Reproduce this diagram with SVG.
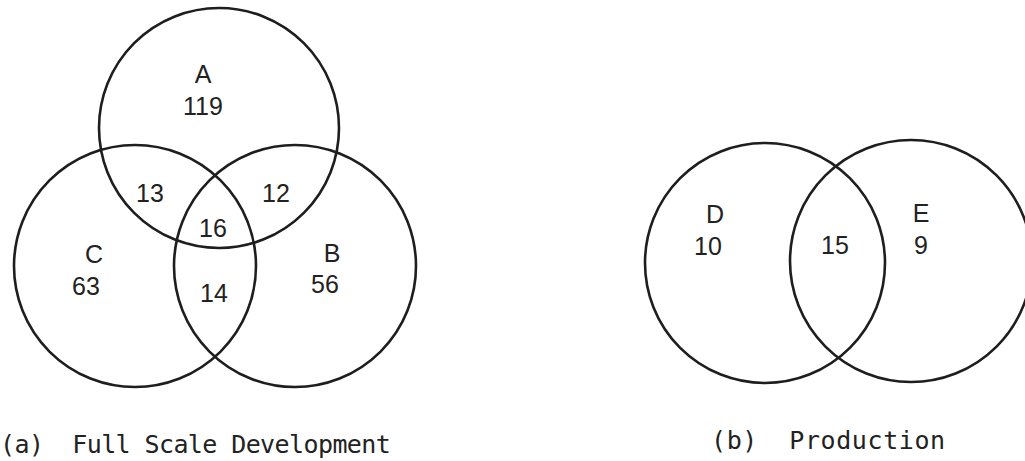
<svg xmlns="http://www.w3.org/2000/svg" width="1025" height="461" viewBox="0 0 1025 461">
<style>
.c{fill:none;stroke:#1e1e1e;stroke-width:2.6}
.t{font-family:"Liberation Sans",Arial,sans-serif;font-size:25px;fill:#222;text-anchor:middle}
.cap{font-family:"DejaVu Sans Mono","Liberation Mono",monospace;font-size:25px;fill:#222}
</style>
<rect width="1025" height="461" fill="#fff"/>
<g id="setA"><circle class="c" cx="219" cy="128" r="120"/><text class="t" x="203" y="83">A</text><text class="t" x="203" y="115">119</text></g>
<g id="setC"><circle class="c" cx="135" cy="266" r="121"/><text class="t" x="94" y="263">C</text><text class="t" x="86" y="295">63</text></g>
<g id="setB"><circle class="c" cx="295" cy="266" r="121"/><text class="t" x="332" y="262">B</text><text class="t" x="325" y="293">56</text></g>
<g id="AC"><text class="t" x="150" y="202">13</text></g>
<g id="AB"><text class="t" x="276" y="202">12</text></g>
<g id="ABC"><text class="t" x="213" y="237">16</text></g>
<g id="BC"><text class="t" x="214" y="302">14</text></g>
<g id="setD"><circle class="c" cx="765" cy="263" r="120"/><text class="t" x="715" y="223">D</text><text class="t" x="708" y="255">10</text></g>
<g id="setE"><circle class="c" cx="911" cy="261" r="121"/><text class="t" x="921" y="222">E</text><text class="t" x="921" y="254">9</text></g>
<g id="DE"><text class="t" x="835" y="254">15</text></g>
<g id="captionA"><text class="cap" x="0" y="453" xml:space="preserve" letter-spacing="-0.6">(a)  Full Scale Development</text></g>
<g id="captionB"><text class="cap" x="711" y="449" xml:space="preserve" letter-spacing="0.6">(b)  Production</text></g>
</svg>
